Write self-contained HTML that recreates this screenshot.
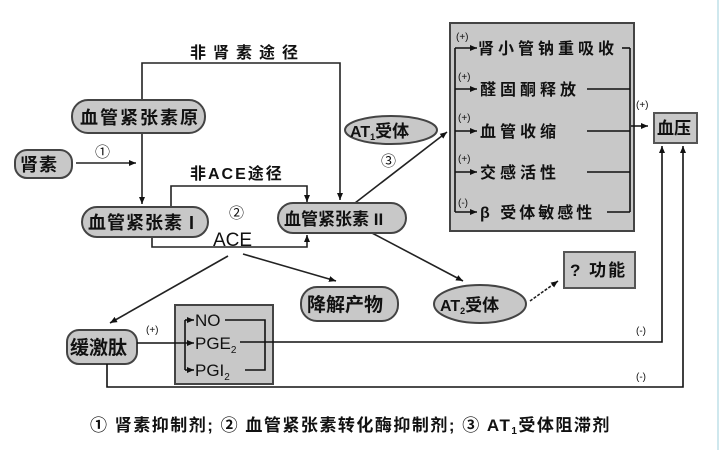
<!DOCTYPE html>
<html><head><meta charset="utf-8"><style>
html,body{margin:0;padding:0;background:#fff}
svg{display:block}
text{font-family:"Liberation Sans","Noto Sans CJK SC",sans-serif;font-weight:bold;fill:#111}
text.n{font-weight:normal}
</style></head><body>
<svg width="720" height="450" viewBox="0 0 720 450" xmlns="http://www.w3.org/2000/svg">
<defs><marker id="a" markerWidth="8" markerHeight="8" refX="7" refY="4" orient="auto" markerUnits="userSpaceOnUse"><path d="M0,1 L7,4 L0,7z" fill="#111"/></marker></defs>
<line x1="718" y1="0" x2="718" y2="450" stroke="#cfe8ee" stroke-width="2"/>
<g stroke="#222" stroke-width="1.6" fill="none">
<polyline points="142,100 142,63 340,63 340,200" marker-end="url(#a)"/>
<line x1="142" y1="133" x2="142" y2="204" marker-end="url(#a)"/>
<line x1="76" y1="163" x2="136" y2="163" marker-end="url(#a)"/>
<polyline points="171,207 171,186 307,186 307,202" marker-end="url(#a)"/>
<polyline points="152,237 152,247 307,247 307,235" marker-end="url(#a)"/>
<line x1="355" y1="203" x2="447" y2="132" marker-end="url(#a)"/>
<line x1="372" y1="233" x2="463" y2="281" marker-end="url(#a)"/>
<line x1="228" y1="256" x2="110" y2="323" marker-end="url(#a)"/>
<line x1="243" y1="254" x2="336" y2="281" marker-end="url(#a)"/>
<line x1="530" y1="301" x2="558" y2="281" stroke-dasharray="3,1.5" marker-end="url(#a)"/>
</g>
<rect x="450" y="23" width="184" height="208" fill="#c8c8c8" stroke="#444" stroke-width="2"/>
<g stroke="#111" stroke-width="1.6" fill="none">
<line x1="455" y1="48" x2="455" y2="212"/>
<line x1="455" y1="48" x2="477" y2="48" marker-end="url(#a)"/>
<line x1="455" y1="89" x2="477" y2="89" marker-end="url(#a)"/>
<line x1="455" y1="131" x2="477" y2="131" marker-end="url(#a)"/>
<line x1="455" y1="172" x2="477" y2="172" marker-end="url(#a)"/>
<line x1="455" y1="212" x2="477" y2="212" marker-end="url(#a)"/>
<line x1="622" y1="48" x2="630" y2="48"/>
<line x1="587" y1="89" x2="630" y2="89"/>
<line x1="587" y1="131" x2="630" y2="131"/>
<line x1="587" y1="172" x2="630" y2="172"/>
<line x1="607" y1="212" x2="630" y2="212"/>
<line x1="630" y1="48" x2="630" y2="212"/>
<line x1="631" y1="126" x2="648" y2="126" marker-end="url(#a)"/>
</g>
<g font-size="16" letter-spacing="4">
<text x="478" y="54">肾小管钠重吸收</text>
<text x="480" y="95">醛固酮释放</text>
<text x="480" y="137">血管收缩</text>
<text x="480" y="178">交感活性</text>
<text x="480" y="218" letter-spacing="3">β 受体敏感性</text>
</g>
<g font-size="10">
<text class="n" x="456" y="40">(+)</text><text class="n" x="458" y="80">(+)</text><text class="n" x="458" y="121">(+)</text><text class="n" x="458" y="162">(+)</text><text class="n" x="458" y="206">(-)</text>
<text class="n" x="636" y="108">(+)</text>
<text class="n" x="636" y="334">(-)</text><text class="n" x="636" y="380">(-)</text>
<text class="n" x="146" y="333">(+)</text>
</g>
<rect x="654" y="113" width="43" height="30" fill="#c8c8c8" stroke="#555" stroke-width="2"/>
<text x="657" y="134" font-size="17">血压</text>
<rect x="564" y="252" width="71" height="36" fill="#c8c8c8" stroke="#555" stroke-width="2"/>
<text x="570" y="276" font-size="17" letter-spacing="2">? 功能</text>
<g fill="#c8c8c8" stroke="#444" stroke-width="2">
<rect x="72" y="100" width="133" height="33" rx="16"/>
<rect x="15" y="150" width="57" height="28" rx="12"/>
<rect x="82" y="207" width="126" height="30" rx="15"/>
<rect x="278" y="203" width="128" height="30" rx="15"/>
<rect x="301" y="287" width="97" height="34" rx="16"/>
<rect x="67" y="330" width="70" height="34" rx="12"/>
<ellipse cx="391" cy="130" rx="46" ry="14"/>
<ellipse cx="480" cy="304" rx="46" ry="19"/>
</g>
<g font-size="18">
<text x="80" y="124" letter-spacing="2">血管紧张素原</text>
<text x="20" y="171" letter-spacing="1">肾素</text>
<text x="88" y="229" letter-spacing="1">血管紧张素 I</text>
<text x="284" y="225" font-size="17">血管紧张素 II</text>
<text x="307" y="311" font-size="19">降解产物</text>
<text x="70" y="354" font-size="19">缓激肽</text>
<text x="350" y="137" font-size="16">AT<tspan font-size="9" dy="3">1</tspan><tspan dy="-3" font-size="17">受体</tspan></text>
<text x="440" y="311" font-size="16">AT<tspan font-size="9" dy="3">2</tspan><tspan dy="-3" font-size="17">受体</tspan></text>
<text x="190" y="58" font-size="16" letter-spacing="7">非肾素途径</text>
<text x="190" y="179" font-size="16" letter-spacing="2">非ACE途径</text>
<text class="n" x="213" y="246" font-size="19">ACE</text>
<text class="n" x="229" y="218" font-size="15">②</text>
<text class="n" x="95" y="157" font-size="15">①</text>
<text class="n" x="381" y="166" font-size="15">③</text>
</g>
<rect x="175" y="305" width="98" height="79" fill="#c8c8c8" stroke="#444" stroke-width="2"/>
<g stroke="#111" stroke-width="1.6" fill="none">
<line x1="185" y1="320" x2="185" y2="370"/>
<line x1="185" y1="320" x2="194" y2="320" marker-end="url(#a)"/>
<line x1="185" y1="370" x2="194" y2="370" marker-end="url(#a)"/>
<line x1="137" y1="343" x2="194" y2="343" marker-end="url(#a)"/>
<polyline points="225,320 265,320 265,370 245,370"/>
<polyline points="240,342 662,342 662,146" marker-end="url(#a)"/>
<polyline points="107,364 107,387 683,387 683,146" marker-end="url(#a)"/>
</g>
<g font-size="17">
<text class="n" x="195" y="326">NO</text>
<text class="n" x="195" y="349">PGE<tspan font-size="10" dy="4">2</tspan></text>
<text class="n" x="195" y="376">PGI<tspan font-size="10" dy="4">2</tspan></text>
</g>
<text x="90" y="431" font-size="17" letter-spacing="1.5">① 肾素抑制剂; ② 血管紧张素转化酶抑制剂; ③ AT<tspan font-size="10" dy="3">1</tspan><tspan dy="-3">受体阻滞剂</tspan></text>
</svg>
</body></html>
